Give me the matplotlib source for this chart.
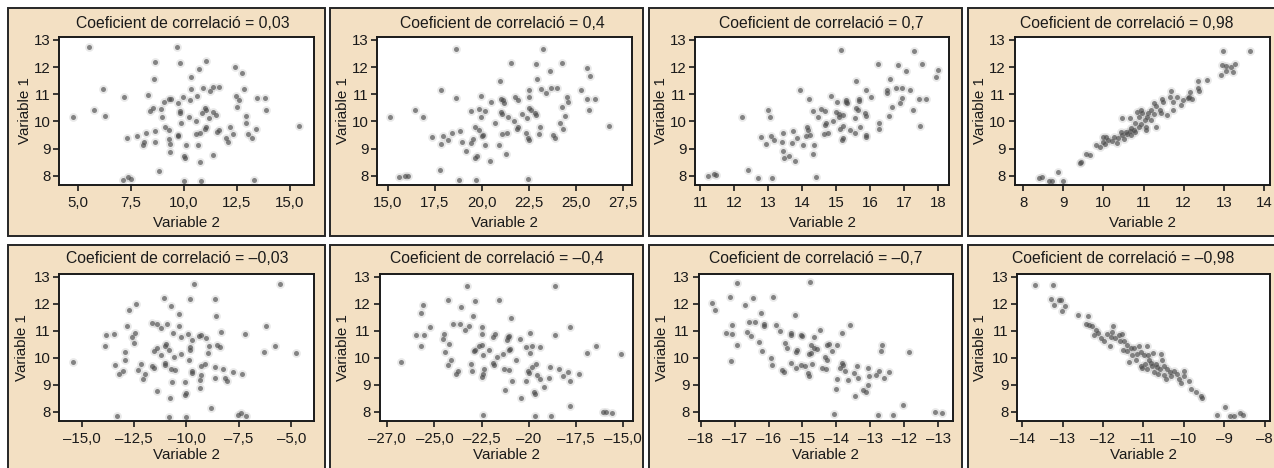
import matplotlib.pyplot as plt
from matplotlib.patches import Rectangle

plt.rcParams['font.family'] = ['Liberation Sans', 'DejaVu Sans']

# ---- data (Variable 2 on x, Variable 1 on y) ----
x_p003 = [5.56, 9.66, 8.64, 9.81, 11.06, 12.41, 12.73, 10.72, 8.61, 10.36,
          6.19, 10.36, 10.91, 11.38, 11.66, 11.22, 12.83, 7.19, 8.33, 9.94,
          10.63, 9.31, 9.42, 9.06, 10.28, 12.44, 12.59, 13.84, 13.44, 12.50,
          5.78, 8.56, 8.92, 8.41, 9.75, 9.81, 9.81, 10.98, 11.03, 11.39,
          11.53, 10.84, 13.88, 4.78, 6.30, 8.98, 10.25, 11.19, 10.59, 12.94,
          12.94, 9.89, 15.41, 11.03, 11.00, 11.66, 11.55, 12.16, 9.11, 9.30,
          8.63, 8.24, 9.75, 9.72, 10.56, 10.75, 12.31, 13.02, 13.41, 7.78,
          7.34, 11.97, 13.22, 9.31, 12.08, 8.66, 8.14, 8.06, 9.34, 10.09,
          10.67, 9.36, 11.39, 10.02, 10.06, 10.78, 8.84, 7.16, 7.39, 7.52,
          10.02, 10.83, 13.30]
y_p003 = [12.75, 12.73, 12.19, 12.17, 12.22, 12.00, 11.77, 11.92, 11.55, 11.63,
          11.19, 11.19, 11.24, 11.26, 11.28, 11.11, 11.19, 10.90, 10.97, 10.90,
          10.92, 10.84, 10.82, 10.72, 10.79, 10.92, 10.79, 10.86, 10.87, 10.55,
          10.43, 10.49, 10.45, 10.39, 10.67, 10.39, 10.30, 10.50, 10.43, 10.36,
          10.24, 10.30, 10.43, 10.18, 10.21, 10.18, 10.16, 10.12, 10.03, 10.21,
          9.94, 9.94, 9.84, 9.81, 9.74, 9.69, 9.63, 9.78, 9.78, 9.69,
          9.65, 9.57, 9.51, 9.45, 9.54, 9.57, 9.54, 9.53, 9.72, 9.47,
          9.39, 9.39, 9.39, 9.35, 9.23, 9.26, 9.26, 9.14, 9.18, 9.12,
          9.12, 8.89, 8.77, 8.71, 8.64, 8.51, 8.16, 7.85, 7.94, 7.89,
          7.82, 7.82, 7.84]

x_p04 = [18.60, 23.26, 21.56, 22.87, 24.27, 25.59, 25.73, 23.60, 20.94, 22.94,
         17.84, 22.50, 23.16, 23.65, 24.01, 23.39, 25.25, 18.60, 19.96, 21.77,
         21.03, 21.12, 21.91, 22.50, 24.49, 24.57, 25.56, 25.99, 20.48, 21.15,
         16.47, 19.43, 19.82, 20.14, 20.99, 21.06, 22.50, 22.62, 22.84, 22.89,
         22.13, 24.25, 25.69, 15.14, 16.90, 19.96, 21.38, 22.41, 24.43, 21.70,
         20.67, 24.12, 26.77, 21.91, 21.86, 23.07, 19.65, 19.82, 18.86, 18.40,
         20.04, 20.00, 21.08, 21.31, 22.36, 23.01, 24.31, 17.91, 17.36, 22.45,
         23.78, 23.87, 19.55, 22.48, 18.95, 18.18, 17.84, 20.16, 20.89, 19.41,
         19.18, 21.26, 19.73, 19.66, 20.41, 17.80, 15.59, 15.92, 16.06, 18.81,
         19.70, 22.45]
y_p04 = [12.67, 12.66, 12.14, 12.12, 12.14, 11.96, 11.68, 11.87, 11.49, 11.57,
         11.16, 11.14, 11.20, 11.24, 11.24, 11.04, 11.14, 10.86, 10.94, 10.89,
         10.82, 10.79, 10.79, 10.89, 10.89, 10.70, 10.83, 10.83, 10.70, 10.67,
         10.43, 10.39, 10.45, 10.39, 10.34, 10.28, 10.49, 10.43, 10.30, 10.24,
         10.28, 10.52, 10.43, 10.16, 10.18, 10.18, 10.16, 10.12, 10.21, 10.03,
         9.94, 9.94, 9.84, 9.81, 9.74, 9.78, 9.78, 9.67, 9.65, 9.57,
         9.51, 9.45, 9.54, 9.57, 9.57, 9.53, 9.72, 9.47, 9.41, 9.39,
         9.51, 9.39, 9.35, 9.30, 9.26, 9.32, 9.16, 9.14, 9.14, 9.20,
         8.93, 8.80, 8.74, 8.65, 8.53, 8.22, 7.94, 8.00, 7.98, 7.85,
         7.85, 7.89]

x_p07 = [15.15, 17.29, 16.25, 16.82, 17.53, 18.00, 17.95, 17.05, 15.59, 16.60,
         13.95, 15.87, 16.50, 16.77, 16.94, 16.50, 17.18, 14.19, 14.85, 15.28,
         15.30, 15.67, 15.69, 16.03, 16.95, 16.89, 17.44, 17.66, 15.03, 15.33,
         12.99, 14.31, 14.56, 14.66, 15.00, 15.08, 15.59, 15.64, 15.84, 15.87,
         15.22, 16.65, 17.28, 12.23, 13.05, 14.46, 15.08, 15.57, 16.57, 14.92,
         14.69, 16.28, 17.48, 15.20, 15.12, 15.71, 14.15, 14.17, 13.72, 13.43,
         14.66, 14.22, 14.12, 14.64, 14.76, 15.41, 15.56, 16.28, 13.08, 12.79,
         15.22, 15.89, 15.87, 13.85, 15.18, 13.40, 13.18, 12.94, 14.02, 14.34,
         13.69, 13.43, 14.33, 13.61, 13.48, 13.79, 12.40, 11.22, 11.41, 11.46,
         12.69, 13.11, 14.41]
y_p07 = [12.63, 12.61, 12.11, 12.08, 12.12, 11.90, 11.65, 11.84, 11.49, 11.55,
         11.14, 11.14, 11.16, 11.22, 11.22, 11.06, 11.14, 10.84, 10.92, 10.79,
         10.72, 10.84, 10.77, 10.89, 10.86, 10.67, 10.83, 10.83, 10.70, 10.67,
         10.43, 10.39, 10.45, 10.39, 10.34, 10.28, 10.49, 10.43, 10.30, 10.21,
         10.24, 10.52, 10.43, 10.16, 10.18, 10.18, 10.16, 10.12, 10.21, 10.03,
         9.94, 9.94, 9.84, 9.84, 9.74, 9.78, 9.78, 9.67, 9.65, 9.57,
         9.88, 9.51, 9.45, 9.54, 9.57, 9.67, 9.57, 9.72, 9.47, 9.42,
         9.39, 9.51, 9.41, 9.39, 9.30, 9.26, 9.32, 9.16, 9.14, 9.14,
         9.20, 8.93, 8.80, 8.74, 8.65, 8.55, 8.22, 7.98, 8.06, 8.01,
         7.91, 7.91, 7.95]

x_p098 = [12.99, 13.65, 12.95, 13.05, 13.17, 13.28, 13.05, 12.92, 13.24, 12.36,
          12.57, 11.69, 12.36, 12.38, 12.17, 11.67, 12.13, 12.20, 11.84, 11.45,
          11.49, 11.74, 11.93, 11.26, 11.30, 11.74, 10.83, 11.18, 11.10, 10.97,
          11.25, 10.47, 10.66, 10.89, 11.08, 11.04, 11.18, 10.80, 10.95, 11.05,
          11.30, 10.89, 10.68, 10.66, 10.76, 10.43, 10.47, 10.60, 10.27, 10.37,
          10.06, 10.12, 10.22, 9.98, 9.81, 10.04, 10.33, 9.92, 9.56, 9.68,
          9.44, 9.42, 8.88, 8.40, 8.48, 8.65, 8.73, 9.00, 10.56, 9.98,
          11.05, 11.43, 11.59, 11.41, 11.99, 10.80, 10.93, 10.51, 10.68, 12.12]
y_p098 = [12.61, 12.59, 12.08, 12.05, 12.02, 12.12, 11.86, 11.71, 11.83, 11.50,
          11.53, 11.13, 11.22, 11.13, 11.10, 10.91, 10.89, 10.83, 10.89, 10.81,
          10.73, 10.73, 10.60, 10.67, 10.57, 10.42, 10.36, 10.42, 10.32, 10.30,
          10.27, 10.11, 10.11, 10.17, 10.17, 10.05, 10.05, 9.95, 9.89, 9.81,
          9.78, 9.81, 9.77, 9.66, 9.68, 9.62, 9.50, 9.54, 9.44, 9.38,
          9.44, 9.31, 9.28, 9.25, 9.13, 9.17, 9.19, 9.07, 8.80, 8.76,
          8.52, 8.48, 8.15, 7.90, 7.94, 7.80, 7.80, 7.80, 9.62, 9.44,
          9.68, 10.30, 10.24, 10.42, 10.79, 9.62, 10.42, 9.34, 9.50, 10.85]

x_n003 = [-5.56, -9.66, -8.64, -9.81, -11.06, -12.41, -12.73, -10.72, -8.61, -10.36,
          -6.19, -10.36, -10.91, -11.38, -11.66, -11.22, -12.83, -7.19, -8.33, -9.94,
          -10.63, -9.31, -9.42, -9.06, -10.28, -12.44, -12.59, -13.84, -13.44, -12.50,
          -5.78, -8.56, -8.92, -8.41, -9.75, -9.81, -9.81, -10.98, -11.03, -11.39,
          -11.53, -10.84, -13.88, -4.78, -6.30, -8.98, -10.25, -11.19, -10.59, -12.94,
          -12.94, -9.89, -15.41, -11.03, -11.00, -11.66, -11.55, -12.16, -9.11, -9.30,
          -8.63, -8.24, -9.75, -9.72, -10.56, -10.75, -12.31, -13.02, -13.41, -7.78,
          -7.34, -11.97, -13.22, -9.31, -12.08, -8.66, -8.14, -8.06, -9.34, -10.09,
          -10.67, -9.36, -11.39, -10.02, -10.06, -10.78, -8.84, -7.16, -7.39, -7.52,
          -10.02, -10.83, -13.30]
y_n003 = y_p003

x_n04 = [-18.60, -23.26, -21.56, -22.87, -24.27, -25.59, -25.73, -23.60, -20.94, -22.94,
         -17.84, -22.50, -23.16, -23.65, -24.01, -23.39, -25.25, -18.60, -19.96, -21.77,
         -21.03, -21.12, -21.91, -22.50, -24.49, -24.57, -25.56, -25.99, -20.48, -21.15,
         -16.47, -19.43, -19.82, -20.14, -20.99, -21.06, -22.50, -22.62, -22.84, -22.89,
         -22.13, -24.25, -25.69, -15.14, -16.90, -19.96, -21.38, -22.41, -24.43, -21.70,
         -20.67, -24.12, -26.77, -21.91, -21.86, -23.07, -19.65, -19.82, -18.86, -18.40,
         -20.04, -20.00, -21.08, -21.31, -22.36, -23.01, -24.31, -17.91, -17.36, -22.45,
         -23.78, -23.87, -19.55, -22.48, -18.95, -18.18, -17.84, -20.16, -20.89, -19.41,
         -19.18, -21.26, -19.73, -19.66, -20.41, -17.80, -15.59, -15.92, -16.06, -18.81,
         -19.70, -22.45]
y_n04 = y_p04

x_n07 = [-16.92, -14.78, -17.66, -17.13, -16.46, -15.87, -17.58, -16.69, -16.22, -15.23,
         -17.07, -16.57, -16.41, -16.13, -16.13, -15.77, -17.26, -17.07, -16.64, -16.52,
         -15.66, -15.33, -15.33, -15.05, -15.00, -14.66, -14.48, -13.82, -13.60, -16.92,
         -16.28, -15.52, -15.47, -15.15, -15.20, -16.20, -14.74, -14.66, -14.56, -14.76,
         -14.80, -14.29, -14.21, -13.97, -14.12, -12.66, -12.67, -11.87, -15.94, -15.91,
         -17.11, -15.35, -15.18, -15.03, -14.93, -14.73, -14.33, -14.29, -14.41, -14.31,
         -13.82, -13.80, -13.90, -13.74, -15.59, -15.54, -14.85, -14.82, -13.38, -13.08,
         -13.48, -13.35, -13.05, -12.84, -12.74, -12.44, -12.59, -13.98, -13.67, -13.06,
         -14.00, -13.22, -13.13, -13.45, -12.05, -14.07, -12.77, -12.33, -11.10, -10.89]
y_n07 = [12.79, 12.81, 12.05, 12.27, 12.23, 12.26, 11.79, 11.97, 11.66, 11.60,
         11.23, 11.33, 11.32, 11.25, 11.17, 11.23, 10.92, 10.90, 10.96, 10.80,
         10.98, 10.92, 10.83, 10.86, 10.80, 10.78, 11.03, 10.92, 11.23, 10.49,
         10.59, 10.55, 10.37, 10.30, 10.22, 10.26, 10.48, 10.38, 10.32, 10.19,
         10.13, 10.49, 10.53, 10.46, 10.25, 10.49, 10.25, 10.22, 9.99, 9.75,
         9.89, 9.80, 9.62, 9.75, 9.69, 9.77, 10.02, 9.94, 9.62, 9.60,
         9.82, 9.73, 9.62, 9.53, 9.56, 9.46, 9.43, 9.34, 9.69, 9.62,
         9.44, 9.25, 9.32, 9.37, 9.52, 9.46, 9.24, 9.20, 9.17, 8.98,
         8.85, 8.80, 8.74, 8.58, 8.24, 7.91, 7.89, 7.89, 8.01, 7.95]

x_n098 = [-13.69, -13.24, -13.28, -13.22, -13.09, -13.03, -13.01, -12.95, -12.62, -12.37,
          -12.42, -12.35, -12.27, -12.18, -12.13, -12.23, -11.91, -11.77, -11.75, -11.81,
          -11.71, -11.83, -11.61, -11.54, -11.48, -11.40, -11.32, -11.40, -11.24, -11.11,
          -11.07, -10.99, -11.17, -11.36, -11.19, -10.89, -10.91, -10.76, -10.56, -10.95,
          -10.82, -10.78, -10.70, -10.66, -10.58, -10.74, -10.64, -10.49, -10.41, -10.35,
          -10.25, -10.48, -10.33, -10.16, -10.43, -10.12, -10.08, -9.87, -9.83, -9.71,
          -9.57, -9.54, -8.99, -9.17, -8.86, -8.76, -8.61, -8.53, -11.57, -12.06,
          -11.98, -11.50, -11.07, -10.00, -10.86, -10.53, -11.28, -11.03, -10.91, -10.00]
y_n098 = [12.69, 12.69, 12.19, 11.95, 12.14, 12.16, 11.73, 11.91, 11.60, 11.54,
          11.26, 11.21, 11.17, 11.05, 10.93, 10.86, 10.89, 10.96, 11.17, 10.77,
          10.74, 10.43, 10.86, 10.89, 10.62, 10.49, 10.37, 10.27, 10.35, 10.43,
          10.22, 10.12, 10.15, 9.84, 9.94, 10.10, 10.43, 10.19, 10.15, 9.78,
          9.81, 9.69, 9.78, 9.65, 9.57, 9.48, 9.41, 9.69, 9.57, 9.48,
          9.51, 9.38, 9.32, 9.41, 9.20, 9.20, 9.07, 9.14, 8.86, 8.74,
          8.58, 8.52, 8.17, 7.88, 7.84, 7.84, 7.96, 7.90, 10.64, 10.74,
          10.62, 10.31, 9.69, 9.32, 9.94, 9.94, 10.12, 9.63, 9.57, 9.53]

titles = ['Coeficient de correlació = 0,03', 'Coeficient de correlació = 0,4',
          'Coeficient de correlació = 0,7', 'Coeficient de correlació = 0,98',
          'Coeficient de correlació = –0,03', 'Coeficient de correlació = –0,4',
          'Coeficient de correlació = –0,7', 'Coeficient de correlació = –0,98']

xtick_values = [[5, 7.5, 10, 12.5, 15],
                [15, 17.5, 20, 22.5, 25, 27.5],
                [11, 12, 13, 14, 15, 16, 17, 18],
                [8, 9, 10, 11, 12, 13, 14],
                [-15, -12.5, -10, -7.5, -5],
                [-27.5, -25, -22.5, -20, -17.5, -15],
                [-18, -17, -16, -15, -14, -13, -12, -11],
                [-14, -13, -12, -11, -10, -9, -8]]
xtick_labels = [['5,0', '7,5', '10,0', '12,5', '15,0'],
                ['15,0', '17,5', '20,0', '22,5', '25,0', '27,5'],
                ['11', '12', '13', '14', '15', '16', '17', '18'],
                ['8', '9', '10', '11', '12', '13', '14'],
                ['–15,0', '–12,5', '–10,0', '–7,5', '–5,0'],
                ['–27,0', '–25,0', '–22,5', '–20', '–17,5', '–15,0'],
                ['–18', '–17', '–16', '–15', '–14', '–13', '–12', '–13'],
                ['–14', '–13', '–12', '–11', '–10', '–9', '–8']]
ytick_values = [8, 9, 10, 11, 12, 13]

series = [(x_p003, y_p003), (x_p04, y_p04), (x_p07, y_p07), (x_p098, y_p098),
          (x_n003, y_n003), (x_n04, y_n04), (x_n07, y_n07), (x_n098, y_n098)]

# ---- layout, in pixels from the top-left corner ----
W, H = 1274, 468
boxes = [(8, 8, 325, 236), (330, 8, 643, 236), (649, 8, 962, 236), (968, 8, 1284, 236),
         (8, 245, 325, 474), (330, 245, 643, 474), (649, 245, 962, 474), (968, 245, 1284, 474)]
axes_px = [(59.3, 37, 314, 185), (377.3, 37, 632.3, 185), (695.3, 37, 949.3, 185), (1015, 37, 1270, 185),
           (59.3, 274, 314, 421), (379.7, 274, 633, 421), (698.7, 274, 952.7, 421), (1017.3, 274, 1270, 421)]
xlims = [(4.14, 16.13), (14.45, 27.98), (10.85, 18.34), (7.80, 14.15),
         (-16.06, -3.92), (-27.9, -14.49), (-18.06, -10.57), (-14.12, -7.87)]
title_x = [183, 502, 821, 1127, 177, 497, 816, 1123]

beige = '#f3e0c3'
edge = '#262626'
ink = '#1a1a1a'

fig = plt.figure(figsize=(W / 100, H / 100), dpi=100)
fig.patch.set_facecolor('white')

for (l, t, r, b) in boxes:
    fig.add_artist(Rectangle((l / W, 1 - b / H), (r - l) / W, (b - t) / H,
                             transform=fig.transFigure, facecolor=beige,
                             edgecolor=edge, linewidth=1.4, zorder=-10))

for i, (xs, ys) in enumerate(series):
    l, t, r, b = axes_px[i]
    ax = fig.add_axes([l / W, 1 - b / H, (r - l) / W, (b - t) / H])
    ax.set_facecolor('white')
    # soft grey dots: faint halo + core
    ax.scatter(xs, ys, s=40, color='#888888', alpha=0.18, linewidths=0)
    ax.scatter(xs, ys, s=13, color='#454545', alpha=0.62, linewidths=0)
    ax.set_xlim(*xlims[i])
    ax.set_ylim(7.66, 13.11)
    ax.set_xticks(xtick_values[i], xtick_labels[i])
    ax.set_yticks(ytick_values, [str(v) for v in ytick_values])
    ax.tick_params(direction='out', length=4, width=1.2, labelsize=10.8,
                   color=ink, labelcolor=ink)
    ax.tick_params(axis='x', pad=4)
    ax.tick_params(axis='y', pad=2.5)
    for sp in ax.spines.values():
        sp.set_linewidth(1.4)
        sp.set_color(ink)

    top_row = i < 4
    fig.text(title_x[i] / W, 1 - (28 if top_row else 263) / H, titles[i],
             ha='center', va='baseline', fontsize=11.3, color=ink)
    fig.text((l + r) / 2 / W, 1 - (227 if top_row else 459) / H, 'Variable 2',
             ha='center', va='baseline', fontsize=10.9, color=ink)
    fig.text((l - (34.5 if top_row else 37)) / W, 1 - (t + b) / 2 / H, 'Variable 1',
             ha='center', va='center', rotation=90, fontsize=10.9, color=ink)

fig.savefig('out.png', dpi=100)
